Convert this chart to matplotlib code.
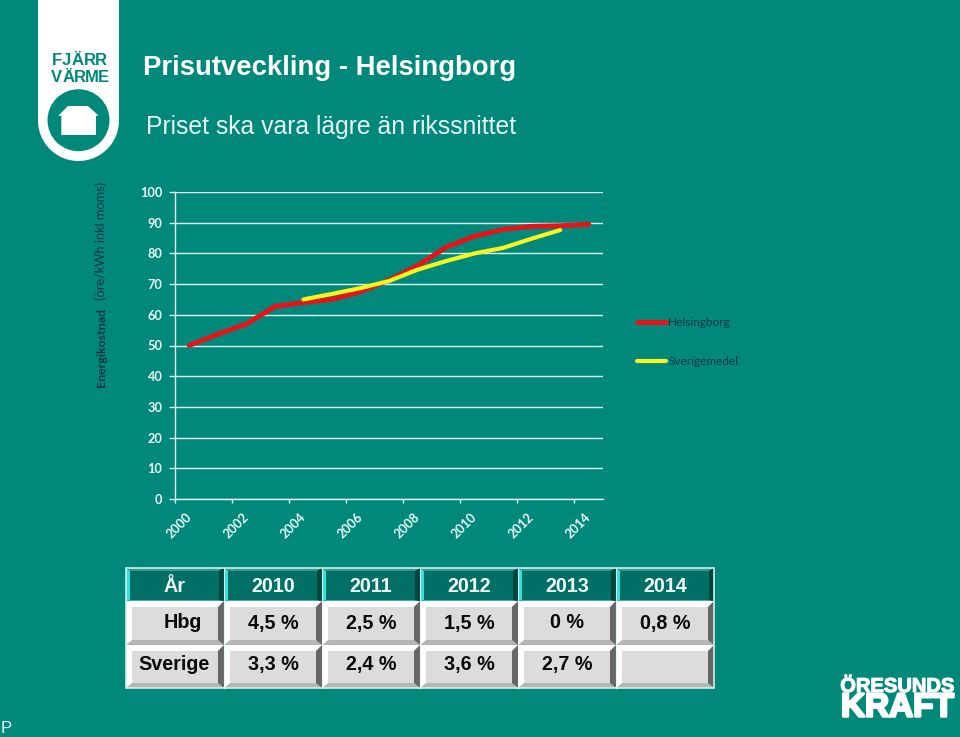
import matplotlib
matplotlib.use("Agg")
import matplotlib.pyplot as plt
import matplotlib.patheffects as pe
from matplotlib.patches import Circle, Polygon, Rectangle
from matplotlib.transforms import ScaledTranslation

#------------------------------DATA--------------------------------------------
years = list(range(2000, 2015))
helsingborg = [50, 53.7, 57, 62.7, 64, 65, 67.5, 71.3, 76, 82, 85.6, 87.8, 88.8, 89, 89.5]
sverige_years = list(range(2004, 2014))
sverige = [65, 66.8, 68.7, 71, 74.7, 77.5, 80, 81.8, 84.8, 87.6]

table_header = ['År', '2010', '2011', '2012', '2013', '2014']
table_hbg = ['Hbg', '4,5 %', '2,5 %', '1,5 %', '0 %', '0,8 %']
table_sverige = ['Sverige', '3,3 %', '2,4 %', '3,6 %', '2,7 %', '']

#------------------------------COLOURS AND FONTS-------------------------------
BG = '#00897B'
LIGHT = '#DDF3F0'
DARK_TEXT = '#0B3540'
ARIAL = 'Liberation Sans'
CALIBRI = 'Lato'

fig = plt.figure(figsize=(9.6, 7.37), dpi=100, facecolor=BG)

# overlay in pixel coordinates for the slide furniture
page = fig.add_axes([0, 0, 1, 1], zorder=0)
page.set_xlim(0, 960)
page.set_ylim(737, 0)
page.axis('off')


#------------------------------LOGOS AND TITLES--------------------------------
def spaced_text(letters, xs, y, size):
    for ch, x in zip(letters, xs):
        page.text(x, y, ch, color=BG, fontsize=size, fontweight='bold',
                  family=ARIAL, ha='center', va='baseline')


page.add_patch(Rectangle((38, -2), 81, 122.5, fc='white', ec='none'))
page.add_patch(Circle((78.5, 120.5), 40.5, fc='white', ec='none'))
page.add_patch(Circle((78.5, 120.2), 31, fc=BG, ec='none'))
page.add_patch(Polygon([(58.3, 115.7), (68, 106), (88, 106), (98.7, 115.7), (96, 115.7),
                        (96, 135), (61.3, 135), (61.3, 115.7)], fc='white', ec='none'))
spaced_text('FJÄRR', [57, 66.5, 77.5, 90, 100.5], 65, 12)
spaced_text('VÄRME', [56.5, 68.5, 80, 92, 103], 82, 12)

page.text(143, 65, 'Prisutveckling - Helsingborg', color='white', fontsize=19.85,
          fontweight='bold', family=ARIAL, ha='left', va='center_baseline')
page.text(146, 124.5, 'Priset ska vara lägre än rikssnittet', color='#E8F6F4', fontsize=17.8,
          family=ARIAL, ha='left', va='center_baseline')

page.text(897.5, 692, 'ÖRESUNDS', color='white', fontsize=14.5, fontweight='bold', family=ARIAL,
          ha='center', va='baseline',
          path_effects=[pe.withStroke(linewidth=0.8, foreground='white')])
page.text(897.5, 716.5, 'KRAFT', color='white', fontsize=24, fontweight='bold', family=ARIAL,
          ha='center', va='baseline',
          path_effects=[pe.withStroke(linewidth=1.8, foreground='white')])
page.text(1, 733, 'P', color='#E8F6F4', fontsize=12, family=ARIAL, ha='left', va='baseline')

page.text(101, 387, 'Energikostnad', color=DARK_TEXT, fontsize=8.9, fontweight='bold',
          family=CALIBRI, rotation=90, ha='center', va='bottom')
page.text(101, 300, '(öre/kWh inkl moms)', color=DARK_TEXT, fontsize=9.2,
          family=CALIBRI, rotation=90, ha='center', va='bottom')

#------------------------------CHART-------------------------------------------
ax = fig.add_axes([175 / 960, 1 - 499 / 737, 428 / 960, 307 / 737], zorder=2)
ax.patch.set_alpha(0)

xpos = [y - years[0] for y in years]
ax.plot(xpos, helsingborg, color='#E3151A', lw=3.6, solid_capstyle='round', label='Helsingborg')
ax.plot([y - years[0] for y in sverige_years], sverige, color='#F6F51E', lw=3.0,
        solid_capstyle='round', label='Sverigemedel')

ax.set_xlim(-0.5, 14.5)
ax.set_ylim(0, 100)
ax.set_yticks(range(0, 101, 10))
ax.set_xticks([x - 0.5 for x in xpos[::2]])
ax.set_xticklabels(years[::2], rotation=45, ha='center', va='top')
ax.grid(axis='y', color=LIGHT, lw=1.0)
ax.set_axisbelow(True)

for side in ['top', 'right']:
    ax.spines[side].set_visible(False)
for side in ['left', 'bottom']:
    ax.spines[side].set_color(LIGHT)
    ax.spines[side].set_linewidth(1.0)

ax.tick_params(axis='y', color=LIGHT, labelcolor='#EAF8F6', length=4, width=1, pad=5, labelsize=9.2)
ax.tick_params(axis='x', color=LIGHT, labelcolor='#EAF8F6', length=3, width=1, pad=5.5, labelsize=9.2)
shift = ScaledTranslation(4 / 100, 0, fig.dpi_scale_trans)
for lab in ax.get_xticklabels() + ax.get_yticklabels():
    lab.set_family(CALIBRI)
    lab.set_fontweight('bold')
for lab in ax.get_xticklabels():
    lab.set_transform(lab.get_transform() + shift)

leg = ax.legend(loc='center left', bbox_to_anchor=(637 / 960, 1 - 342 / 737),
                bbox_transform=fig.transFigure, frameon=False, fontsize=8.5,
                handlelength=2.45, handletextpad=0.2, labelspacing=2.35, borderpad=0, borderaxespad=0)
for txt in leg.get_texts():
    txt.set_color(DARK_TEXT)
    txt.set_family(CALIBRI)

#------------------------------TABLE-------------------------------------------
col_edges = [126, 224, 322, 420, 518, 616, 714]
row_edges = [568, 601, 645, 688]
row_baselines = [592, 628.5, 670]
first_col_right = [None, 202, 210]


def bevel_cell(x0, x1, y0, y1, face, colours, widths):
    left, top, right, bottom = colours
    wl, wt, wr, wb = widths
    page.add_patch(Rectangle((x0, y0), x1 - x0, y1 - y0, fc=face, ec='none'))
    page.add_patch(Polygon([(x0, y0), (x1, y0), (x1 - wr, y0 + wt), (x0 + wl, y0 + wt)], fc=top, ec='none'))
    page.add_patch(Polygon([(x0, y1), (x1, y1), (x1 - wr, y1 - wb), (x0 + wl, y1 - wb)], fc=bottom, ec='none'))
    page.add_patch(Polygon([(x0, y0), (x0 + wl, y0 + wt), (x0 + wl, y1 - wb), (x0, y1)], fc=left, ec='none'))
    page.add_patch(Polygon([(x1, y0), (x1 - wr, y0 + wt), (x1 - wr, y1 - wb), (x1, y1)], fc=right, ec='none'))


for row, cells in enumerate([table_header, table_hbg, table_sverige]):
    for col, cell in enumerate(cells):
        x0, x1 = col_edges[col], col_edges[col + 1]
        y0, y1 = row_edges[row], row_edges[row + 1]
        if row == 0:
            bevel_cell(x0, x1, y0, y1, '#006F65', ('#2FE3E0', '#2E9A90', '#00453F', '#4FA8A0'), (4, 3, 5, 1))
            tx, ha, tc = (x0 + x1) / 2, 'center', '#F2FAF9'
        else:
            bevel_cell(x0, x1, y0, y1, '#DCDCDC', ('white', 'white', '#666666', '#B5B5B5'), (6, 6, 6, 5))
            tx, ha, tc = (x0 + x1) / 2, 'center', '#0A0A0A'
            if col == 0:
                tx, ha = first_col_right[row], 'right'
        page.text(tx, row_baselines[row], cell, color=tc, fontsize=14.2, fontweight='bold',
                  family=ARIAL, ha=ha, va='baseline')

page.add_patch(Rectangle((126, 568), 588, 120, fc='none', ec='#D5EFEC', lw=1.2))
for x in col_edges[1:-1]:
    page.plot([x, x], [568, 688], color='#EAF6F5', lw=0.8)

fig.savefig('out.png', dpi=100, facecolor=BG)
